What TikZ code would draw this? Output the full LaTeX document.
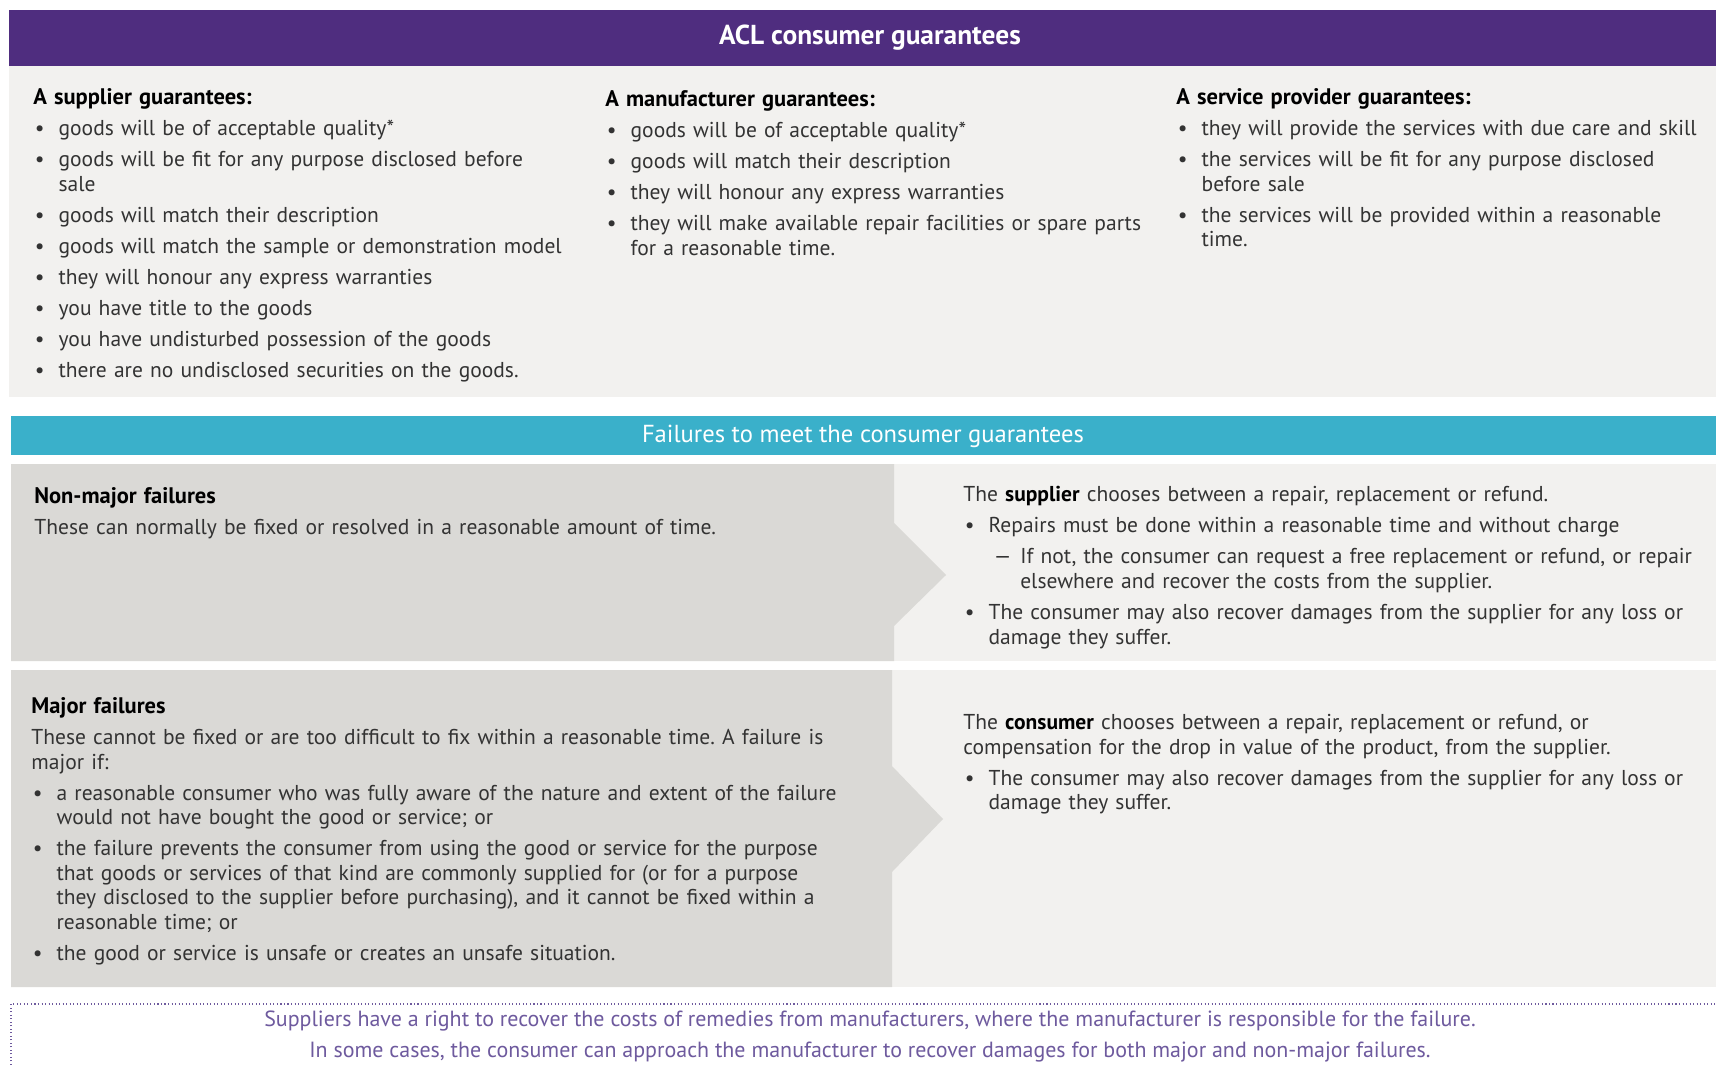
\documentclass[tikz,border=0pt]{standalone}
\usepackage{fontspec}
\setmainfont{PT Sans}
\usepackage{enumitem}
\setlist[itemize]{label=\textbullet, leftmargin=14.4pt, labelsep=8pt, topsep=3.7pt, partopsep=0pt, parsep=0pt, itemsep=3.65pt}
\setlist[itemize,2]{label=\textemdash, leftmargin=18pt, labelsep=5pt}
\frenchspacing

\definecolor{aclpurple}{HTML}{4F2D7F}
\definecolor{aclteal}{HTML}{3AB0CA}
\definecolor{panel}{HTML}{F2F1EF}
\definecolor{paneldark}{HTML}{DAD9D6}
\definecolor{bodygrey}{HTML}{333333}
\definecolor{notepurple}{HTML}{6E5A9E}

\newcommand{\colhead}[1]{{\color{black}\fontsize{12.8}{14}\selectfont\bfseries #1\par}}

\begin{document}
\begin{tikzpicture}[x=0.02cm, y=-0.02cm,
    txt/.style={anchor=north west, inner sep=0pt, align=left, text=bodygrey,
      font=\fontsize{12.25}{14}\selectfont},
    bar/.style={inner sep=0pt, text=white}]
  \clip (0,0) rectangle (1716,1067);
  \fill[white] (0,0) rectangle (1716,1067);

  % banners and panels
  \fill[aclpurple] (9,10) rectangle (1716,66);
  \fill[panel] (9,66) rectangle (1716,397);
  \fill[aclteal] (11,416) rectangle (1716,455);
  \fill[panel] (11,464) rectangle (1716,661);
  \fill[panel] (11,670) rectangle (1716,987);
  \fill[paneldark] (11,464) -- (894,464) -- (894,523) -- (946,575) -- (894,626)
    -- (894,661) -- (11,661) -- cycle;
  \fill[paneldark] (11,670) -- (892,670) -- (892,766) -- (943,819) -- (892,872)
    -- (892,987) -- (11,987) -- cycle;
  \draw[notepurple, line width=0.8pt, dash pattern=on 0.6pt off 1.4pt]
    (11,1100) -- (11,1004) -- (1760,1004);

  \node[bar, font=\fontsize{15.6}{17}\selectfont\bfseries] (title) at (870,38) {ACL consumer guarantees};
  \node[bar, font=\fontsize{14}{16}\selectfont] (failures) at (863,436) {Failures to meet the consumer guarantees};

  % who guarantees what
  \node[txt, text width=10.8cm] (supplier) at (33,88) {\colhead{A supplier guarantees:}
    \begin{itemize}
      \item goods will be of acceptable quality*
      \item goods will be fit for any purpose disclosed before\newline sale
      \item goods will match their description
      \item goods will match the sample or demonstration model
      \item they will honour any express warranties
      \item you have title to the goods
      \item you have undisturbed possession of the goods
      \item there are no undisclosed securities on the goods.
    \end{itemize}};
  \node[txt, text width=10.9cm] (maker) at (605,90.5) {\colhead{A manufacturer guarantees:}
    \begin{itemize}
      \item goods will be of acceptable quality*
      \item goods will match their description
      \item they will honour any express warranties
      \item they will make available repair facilities or spare parts\newline for a reasonable time.
    \end{itemize}};
  \node[txt, text width=10.9cm] (provider) at (1176,88) {\colhead{A service provider guarantees:}
    \begin{itemize}
      \item they will provide the services with due care and skill
      \item the services will be fit for any purpose disclosed\newline before sale
      \item the services will be provided within a reasonable\newline time.
    \end{itemize}};

  % non-major failures
  \node[txt, text width=17cm] (minor) at (34,487) {\colhead{Non-major failures}\vspace{3.7pt}
    These can normally be fixed or resolved in a reasonable amount of time.};
  \node[txt, text width=15cm] (minorfix) at (963,486) {The {\color{black}\bfseries supplier} chooses between a repair, replacement or refund.
    \begin{itemize}
      \item Repairs must be done within a reasonable time and without charge
      \begin{itemize}
        \item If not, the consumer can request a free replacement or refund, or repair\newline elsewhere and recover the costs from the supplier.
      \end{itemize}
      \item The consumer may also recover damages from the supplier for any loss or\newline damage they suffer.
    \end{itemize}};

  % major failures
  \node[txt, text width=17.2cm] (major) at (31,697) {\colhead{Major failures}\vspace{3.7pt}
    These cannot be fixed or are too difficult to fix within a reasonable time. A failure is\newline major if:
    \begin{itemize}
      \item a reasonable consumer who was fully aware of the nature and extent of the failure\newline would not have bought the good or service; or
      \item the failure prevents the consumer from using the good or service for the purpose\newline that goods or services of that kind are commonly supplied for (or for a purpose\newline they disclosed to the supplier before purchasing), and it cannot be fixed within a\newline reasonable time; or
      \item the good or service is unsafe or creates an unsafe situation.
    \end{itemize}};
  \node[txt, text width=15cm] (majorfix) at (963,714) {The {\color{black}\bfseries consumer} chooses between a repair, replacement or refund, or\newline compensation for the drop in value of the product, from the supplier.
    \begin{itemize}
      \item The consumer may also recover damages from the supplier for any loss or\newline damage they suffer.
    \end{itemize}};

  % note on manufacturers
  \node[inner sep=0pt, text=notepurple, font=\fontsize{12.5}{14}\selectfont] (note1) at (870,1021)
    {Suppliers have a right to recover the costs of remedies from manufacturers, where the manufacturer is responsible for the failure.};
  \node[inner sep=0pt, text=notepurple, font=\fontsize{12.5}{14}\selectfont] (note2) at (870,1052)
    {In some cases, the consumer can approach the manufacturer to recover damages for both major and non-major failures.};
\end{tikzpicture}
\end{document}
